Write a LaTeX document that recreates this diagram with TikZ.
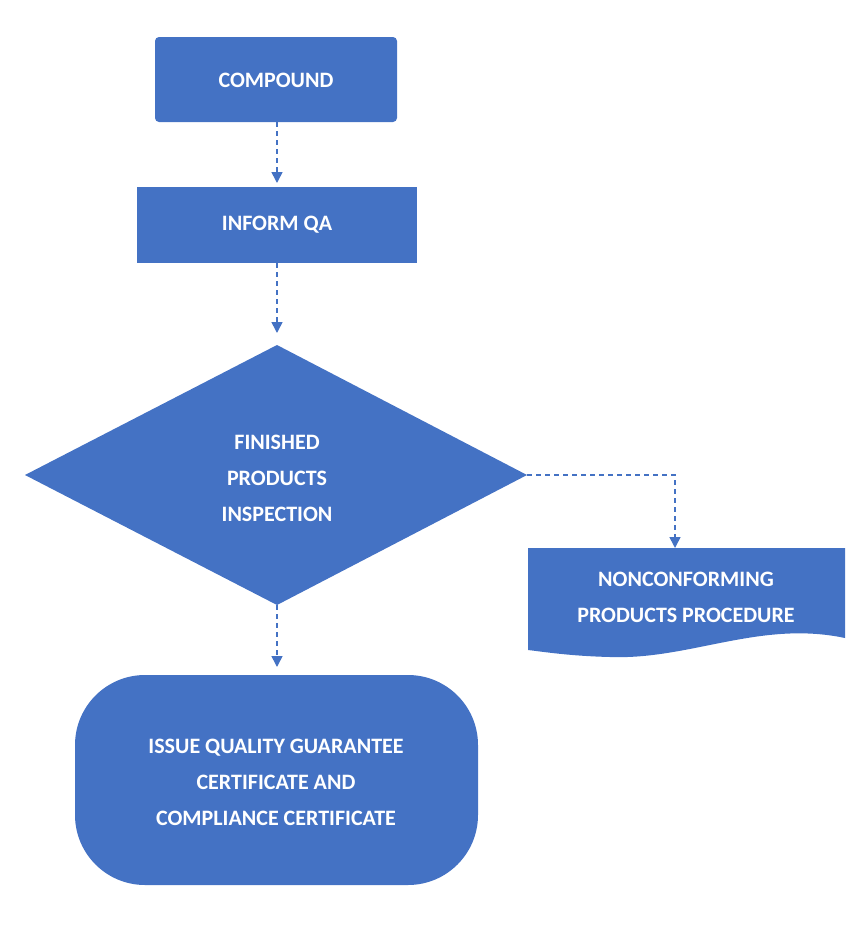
\documentclass[tikz,border=0pt]{standalone}
\usepackage{fontspec}
\setmainfont{Carlito}
\usetikzlibrary{arrows.meta}
\definecolor{bx}{HTML}{4472C4}
\begin{document}
\begin{tikzpicture}[x=1pt,y=-1pt,
  box/.style={fill=bx,draw=none},
  lbl/.style={text=white,font=\bfseries\fontsize{22}{36}\selectfont,align=center},
  conn/.style={draw=bx,line width=1.6pt,dash pattern=on 5pt off 4pt,-{Triangle[length=11pt,width=11pt]}}]
\useasboundingbox (0,0) rectangle (866,929);
\fill[box,rounded corners=4] (155,37) rectangle (397,122);
\node[lbl] (c) at (276,80) {COMPOUND};
\coordinate (cb) at (277,122);
\fill[box] (137,187) rectangle (417,263);
\node[lbl] (q) at (277,225) {INFORM QA};
\coordinate (qt) at (277,183); \coordinate (qb) at (277,263);
\fill[box] (25,475) -- (277,345) -- (527,475) -- (277,605) -- cycle;
\node[lbl] (d) at (277,478) {FINISHED\\PRODUCTS\\INSPECTION};
\coordinate (dt) at (277,333); \coordinate (db) at (277,605); \coordinate (dr) at (527,475);
\fill[box] (528,548) -- (845,548) -- (845,638) .. controls (760,620) and (690,660) .. (610,657) .. controls (570,656) and (545,652) .. (528,650) -- cycle;
\node[lbl] (n) at (686,597) {NONCONFORMING\\PRODUCTS PROCEDURE};
\coordinate (nt) at (675,548); \coordinate (k) at (675,475);
\fill[box,rounded corners=70] (75,675) rectangle (478,885);
\node[lbl] (i) at (276,782) {ISSUE QUALITY GUARANTEE\\CERTIFICATE AND\\COMPLIANCE CERTIFICATE};
\coordinate (it) at (277,667);
\draw[conn] (cb) -- (qt);
\draw[conn] (qb) -- (dt);
\draw[conn] (db) -- (it);
\draw[conn] (dr) -- (k) -- (nt);
\end{tikzpicture}
\end{document}
